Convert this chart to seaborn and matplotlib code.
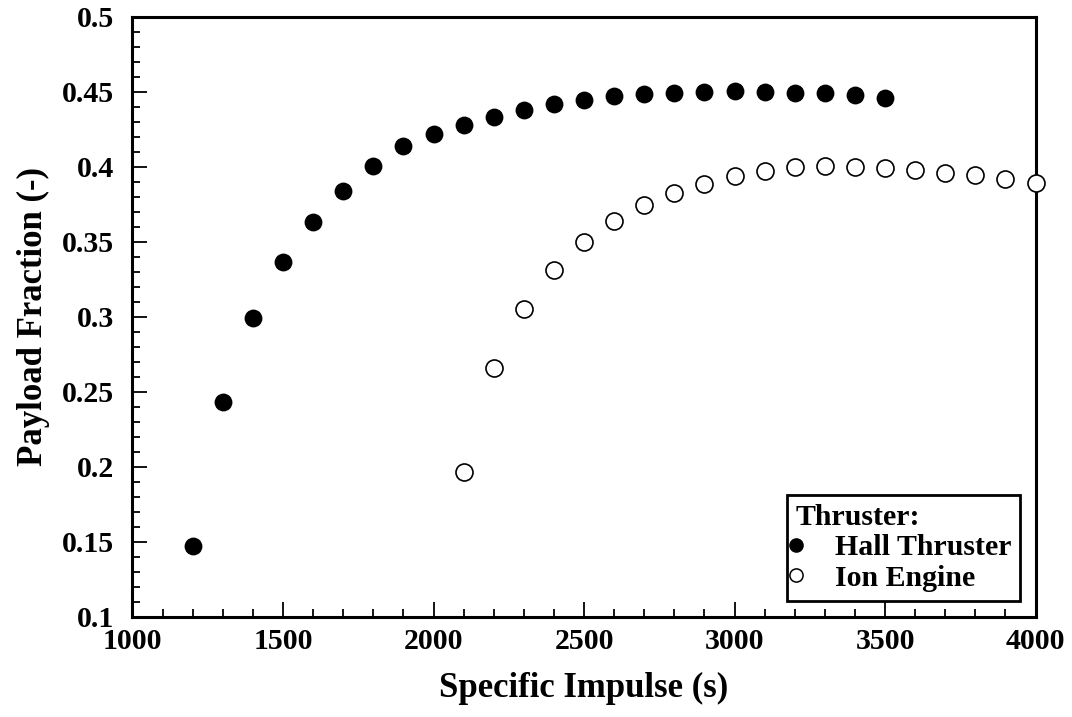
import numpy as np
import pandas as pd
import matplotlib
matplotlib.use("Agg")
import matplotlib.pyplot as plt
from matplotlib.lines import Line2D
from matplotlib.ticker import MultipleLocator
import seaborn as sns

# ---- data ----
hall_isp = [1200, 1300, 1400, 1500, 1600, 1700, 1800, 1900, 2000, 2100, 2200, 2300,
            2400, 2500, 2600, 2700, 2800, 2900, 3000, 3100, 3200, 3300, 3400, 3500]
hall_frac = [0.147, 0.2436, 0.2991, 0.3365, 0.3636, 0.3843, 0.4005, 0.414, 0.4218, 0.4283,
             0.4336, 0.438, 0.4418, 0.4447, 0.4471, 0.4487, 0.4496, 0.4503, 0.4505,
             0.4500, 0.4496, 0.4491, 0.4478, 0.4463]
ion_isp = [2100, 2200, 2300, 2400, 2500, 2600, 2700, 2800, 2900, 3000, 3100, 3200,
           3300, 3400, 3500, 3600, 3700, 3800, 3900, 4000]
ion_frac = [0.1967, 0.266, 0.3051, 0.3313, 0.35, 0.3638, 0.3745, 0.3827, 0.3889, 0.3938,
            0.3975, 0.4002, 0.4007, 0.4002, 0.3993, 0.398, 0.3962, 0.3945, 0.3918, 0.3896]

x_ticks = [1000, 1500, 2000, 2500, 3000, 3500, 4000]
y_ticks = [0.1, 0.15, 0.2, 0.25, 0.3, 0.35, 0.4, 0.45, 0.5]
y_tick_labels = ["0.1", "0.15", "0.2", "0.25", "0.3", "0.35", "0.4", "0.45", "0.5"]

sns.set_theme(style="white")
plt.rcParams["font.family"] = ["Liberation Serif", "DejaVu Serif"]
plt.rcParams["font.weight"] = "bold"
plt.rcParams["text.color"] = "black"
plt.rcParams["axes.labelcolor"] = "black"
plt.rcParams["xtick.color"] = "black"
plt.rcParams["ytick.color"] = "black"

fig = plt.figure(figsize=(10.72, 7.17), dpi=100)
ax = fig.add_axes([0.1236, 0.1395, 0.8424, 0.8368])

hall_df = pd.DataFrame({"isp": hall_isp, "frac": hall_frac})
ion_df = pd.DataFrame({"isp": ion_isp, "frac": ion_frac})

sns.scatterplot(data=hall_df, x="isp", y="frac", ax=ax, s=165, color="black",
                edgecolor="black", linewidth=0, marker="o", clip_on=False, zorder=3)
sns.scatterplot(data=ion_df, x="isp", y="frac", ax=ax, s=150, facecolor="white",
                edgecolor="black", linewidth=1.2, marker="o", clip_on=False, zorder=3)

ax.set_xlim(1000, 4000)
ax.set_ylim(0.1, 0.5)
ax.set_xticks(x_ticks)
ax.set_xticklabels([str(t) for t in x_ticks])
ax.set_yticks(y_ticks)
ax.set_yticklabels(y_tick_labels)
ax.xaxis.set_minor_locator(MultipleLocator(100))
ax.yaxis.set_minor_locator(MultipleLocator(0.01))

for sp in ax.spines.values():
    sp.set_visible(True)
    sp.set_color("black")
    sp.set_linewidth(2.2)

ax.tick_params(which="both", direction="in", color="black", width=1.3,
               top=False, right=False, bottom=True, left=True)
ax.tick_params(which="major", length=11, labelsize=21.5, labelcolor="black")
ax.tick_params(axis="x", which="major", pad=8)
ax.tick_params(axis="y", which="major", pad=13)
ax.tick_params(which="minor", length=5.5)
for lbl in ax.get_xticklabels() + ax.get_yticklabels():
    lbl.set_fontweight("bold")
    lbl.set_color("black")

ax.set_xlabel("Specific Impulse (s)", fontsize=25, fontweight="bold", color="black", labelpad=12)
ax.set_ylabel("Payload Fraction (-)", fontsize=25, fontweight="bold", color="black", labelpad=9)

handles = [
    Line2D([], [], linestyle="none", marker="o", markersize=9.5, markerfacecolor="black",
           markeredgecolor="black", label="Hall Thruster"),
    Line2D([], [], linestyle="none", marker="o", markersize=9.5, markerfacecolor="white",
           markeredgecolor="black", markeredgewidth=1.1, label="Ion Engine"),
]
leg = ax.legend(handles=handles, title="Thruster:", loc="lower right",
                bbox_to_anchor=(0.983, 0.027), borderaxespad=0,
                prop={"family": "Liberation Serif", "weight": "bold", "size": 21.5},
                title_fontproperties={"family": "Liberation Serif", "weight": "bold", "size": 21.5},
                frameon=True, fancybox=False, edgecolor="black", framealpha=1,
                borderpad=0.3, handlelength=0.0, handletextpad=1.3, labelspacing=0.12,
                alignment="left")
leg.get_frame().set_linewidth(2.0)
for t in leg.get_texts():
    t.set_color("black")
leg.get_title().set_color("black")

fig.savefig("out.png", dpi=100, facecolor="white")
